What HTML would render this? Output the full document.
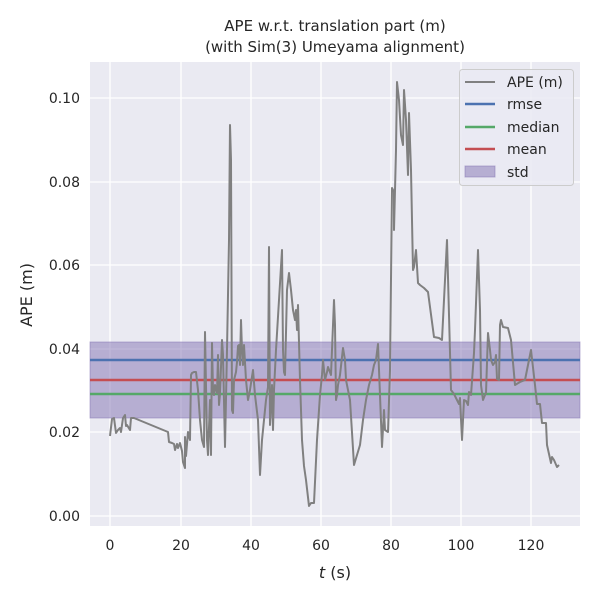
<!DOCTYPE html>
<html><head><meta charset="utf-8"><style>body{margin:0;background:#fff}svg{display:block;font-family:"DejaVu Sans","Liberation Sans",sans-serif}</style></head><body>
<svg width="600" height="600" viewBox="0 0 600 600">
<rect x="90" y="62" width="490" height="464" fill="#eaeaf2"/>
<g stroke="#fff" stroke-width="1.3">
<line x1="110" y1="62" x2="110" y2="526"/><line x1="181" y1="62" x2="181" y2="526"/><line x1="251" y1="62" x2="251" y2="526"/><line x1="321" y1="62" x2="321" y2="526"/><line x1="391" y1="62" x2="391" y2="526"/><line x1="461" y1="62" x2="461" y2="526"/><line x1="531" y1="62" x2="531" y2="526"/>
<line x1="90" y1="516" x2="580" y2="516"/><line x1="90" y1="432" x2="580" y2="432"/><line x1="90" y1="349" x2="580" y2="349"/><line x1="90" y1="265" x2="580" y2="265"/><line x1="90" y1="182" x2="580" y2="182"/><line x1="90" y1="98" x2="580" y2="98"/>
</g>
<rect x="90" y="342" width="490" height="76" fill="#8172b2" fill-opacity="0.5" stroke="#8172b2" stroke-opacity="0.5"/>
<line x1="90" y1="360" x2="580" y2="360" stroke="#4c72b0" stroke-width="2.5"/>
<line x1="90" y1="380" x2="580" y2="380" stroke="#c44e52" stroke-width="2.5"/>
<line x1="90" y1="394" x2="580" y2="394" stroke="#55a868" stroke-width="2.5"/>
<polyline fill="none" stroke="#808080" stroke-width="2" stroke-linejoin="round" points="110,436 112,419 114,418 116,433 118,430 120,428 121,432 123,418 125,415 126,426 127,425 130,430 131,418 134,418 168,432 169,442 172,443 174,444 175,450 177,444 178,448 180,443 182,451 183,462 185,468 185,437 186,456 188,432 190,440 191,375 192,373 194,372 196,372 198,390 200,420 202,440 204,447 205,332 207,440 208,455 210,400 211,455 212,343 213,390 214,395 215,385 217,393 218,355 219,405 220,394 222,340 223,355 225,447 227,350 229,240 230,125 231,160 232,410 233,413 234,380 236,372 237,362 238,346 239,345 240,365 241,320 242,350 243,365 244,345 246,380 248,400 250,390 253,370 255,395 258,420 260,475 262,440 264,420 266,400 268,387 269,247 270,425 272,385 273,430 274,390 276,350 279,300 282,250 283,350 284,372 285,375 287,290 289,273 291,290 293,310 295,320 296,310 297,330 298,305 300,380 302,440 304,466 306,480 309,506 311,503 314,503 317,440 320,395 322,375 323,360 325,380 327,372 328,367 331,375 334,300 335,325 336,400 337,395 338,385 340,375 343,348 345,360 346,380 350,400 354,465 357,455 360,445 363,420 366,400 369,385 372,375 374,365 376,360 378,344 382,447 384,410 385,430 388,432 390,370 392,188 394,192 394,230 396,150 397,82 399,100 401,135 403,145 404,90 406,120 408,175 409,113 411,170 413,270 414,267 416,250 418,283 420,285 424,288 428,292 434,337 439,338 442,340 447,240 451,390 454,394 457,400 459,404 460,398 462,440 464,400 466,401 468,405 469,392 471,395 474,353 475,330 478,250 480,310 481,385 483,400 485,395 486,393 488,333 490,350 491,360 493,365 495,362 496,355 497,379 499,380 500,325 501,320 503,327 508,328 511,340 515,385 520,382 525,380 531,350 535,385 537,404 540,404 542,423 546,423 547,445 551,463 552,457 554,460 557,467 559,465"/>
<g fill="#262626" font-size="14" text-anchor="end">
<text x="80" y="521">0.00</text><text x="80" y="437">0.02</text><text x="80" y="354">0.04</text><text x="80" y="270">0.06</text><text x="80" y="187">0.08</text><text x="80" y="103">0.10</text>
</g>
<g fill="#262626" font-size="14" text-anchor="middle">
<text x="110" y="550">0</text><text x="181" y="550">20</text><text x="251" y="550">40</text><text x="321" y="550">60</text><text x="391" y="550">80</text><text x="461" y="550">100</text><text x="531" y="550">120</text>
<text x="335" y="31" font-size="15">APE w.r.t. translation part (m)</text>
<text x="335" y="52" font-size="15">(with Sim(3) Umeyama alignment)</text>
<text x="335" y="578" font-size="16"><tspan font-style="italic">t</tspan> (s)</text>
<text transform="translate(32,295) rotate(-90)" font-size="16">APE (m)</text>
</g>
<rect x="459.5" y="69.5" width="114" height="116" rx="3" fill="#eaeaf2" fill-opacity="0.8" stroke="#ccc"/>
<line x1="465" y1="82" x2="495" y2="82" stroke="#808080" stroke-width="2"/>
<line x1="465" y1="104" x2="495" y2="104" stroke="#4c72b0" stroke-width="2.5"/>
<line x1="465" y1="127" x2="495" y2="127" stroke="#55a868" stroke-width="2.5"/>
<line x1="465" y1="149" x2="495" y2="149" stroke="#c44e52" stroke-width="2.5"/>
<rect x="465" y="166" width="30" height="11" fill="#8172b2" fill-opacity="0.5" stroke="#8172b2" stroke-opacity="0.5"/>
<g fill="#262626" font-size="14">
<text x="507" y="87">APE (m)</text><text x="507" y="109">rmse</text><text x="507" y="132">median</text><text x="507" y="154">mean</text><text x="507" y="177">std</text>
</g>
</svg>
</body></html>
